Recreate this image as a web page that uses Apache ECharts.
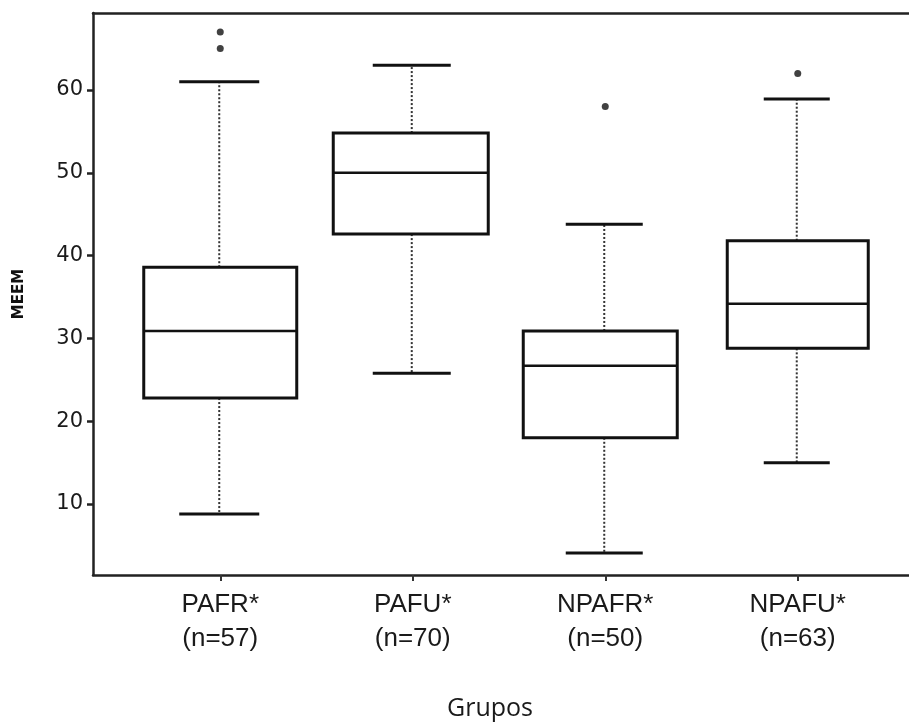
<!DOCTYPE html>
<html>
<head>
<meta charset="utf-8">
<script src="https://cdn.jsdelivr.net/npm/echarts@6/dist/echarts.min.js"></script>
<style>
  html, body { margin: 0; padding: 0; background: #fff; }
  #chart { width: 909px; height: 726px; }
</style>
</head>
<body>
<div id="chart"></div>
<script>
// 数据
var groups = ['PAFR*', 'PAFU*', 'NPAFR*', 'NPAFU*'];
var counts = [57, 70, 50, 63];
var mins = [8.8, 25.8, 4.1, 15.0];
var q1s = [22.8, 42.6, 18.0, 28.8];
var medians = [30.9, 50.0, 26.7, 34.2];
var q3s = [38.6, 54.8, 30.9, 41.8];
var maxs = [61, 63, 43.8, 58.9];
var outliers = [[0, 67], [0, 65], [2, 58], [3, 62]];
var yTicks = [10, 20, 30, 40, 50, 60];

// 样式
var boxWidths = [153, 155, 154, 141];
var capWidths = [80, 78, 77, 66];
var boxShift = [0, -2, -5, 0];
var yMin = 1.43, yMax = 69.3;

var categories = groups.map(function (g, i) {
    return g + '\n(n=' + counts[i] + ')';
});

var boxData = groups.map(function (g, i) {
    return [i, mins[i], q1s[i], medians[i], q3s[i], maxs[i]];
});

function renderBox(params, api) {
    var i = api.value(0);
    var pMin = api.coord([i, api.value(1)]);
    var pQ1 = api.coord([i, api.value(2)]);
    var pMed = api.coord([i, api.value(3)]);
    var pQ3 = api.coord([i, api.value(4)]);
    var pMax = api.coord([i, api.value(5)]);
    var x = pMed[0] - 1;
    var bx = pMed[0] + boxShift[i];
    var bw = boxWidths[i] / 2;
    var cw = capWidths[i] / 2;
    var dotted = { stroke: '#333', lineWidth: 2, lineDash: [2, 2] };
    var solid = { stroke: '#111', lineWidth: 3 };
    return {
        type: 'group',
        children: [
            { type: 'line', shape: { x1: x, y1: pQ3[1], x2: x, y2: pMax[1] }, style: dotted },
            { type: 'line', shape: { x1: x, y1: pQ1[1], x2: x, y2: pMin[1] }, style: dotted },
            { type: 'line', shape: { x1: x - cw, y1: pMax[1], x2: x + cw, y2: pMax[1] }, style: solid },
            { type: 'line', shape: { x1: x - cw, y1: pMin[1], x2: x + cw, y2: pMin[1] }, style: solid },
            {
                type: 'rect',
                shape: { x: bx - bw, y: pQ3[1], width: bw * 2, height: pQ1[1] - pQ3[1] },
                style: { fill: '#fff', stroke: '#111', lineWidth: 3 }
            },
            { type: 'line', shape: { x1: bx - bw, y1: pMed[1], x2: bx + bw, y2: pMed[1] }, style: { stroke: '#111', lineWidth: 2.5 } }
        ]
    };
}

var chart = echarts.init(document.getElementById('chart'));

chart.setOption({
    backgroundColor: '#fff',
    animation: false,
    grid: [
        { left: 93, right: 0, top: 13, bottom: 151, outerBoundsMode: 'none' },
        { left: 124, right: 15, top: 13, bottom: 151, outerBoundsMode: 'none' }
    ],
    xAxis: [
        {
            gridIndex: 0, type: 'value', min: 0, max: 1,
            axisLine: { show: true, lineStyle: { color: '#222', width: 2.5 } },
            axisTick: { show: false }, axisLabel: { show: false }, splitLine: { show: false }
        },
        {
            gridIndex: 0, type: 'value', min: 0, max: 1, position: 'top',
            axisLine: { show: true, lineStyle: { color: '#222', width: 2.5 } },
            axisTick: { show: false }, axisLabel: { show: false }, splitLine: { show: false }
        },
        {
            gridIndex: 1, type: 'category', data: categories, boundaryGap: true,
            axisLine: { show: false },
            axisTick: { show: true, alignWithLabel: true, length: 6, lineStyle: { color: '#333', width: 2 } },
            axisLabel: {
                interval: 0, margin: 13, color: '#1a1a1a',
                fontFamily: 'Liberation Sans', fontSize: 26, lineHeight: 34
            }
        }
    ],
    yAxis: [
        {
            gridIndex: 0, type: 'value', min: yMin, max: yMax,
            name: 'MEEM', nameLocation: 'middle', nameRotate: 90, nameGap: 66,
            nameTextStyle: { fontSize: 15, fontWeight: 'bold', color: '#111', fontFamily: 'DejaVu Sans' },
            axisLine: { show: true, lineStyle: { color: '#222', width: 2.5 } },
            axisTick: { show: true, length: 6, customValues: yTicks, lineStyle: { color: '#222', width: 2.5 } },
            axisLabel: { customValues: yTicks, margin: 10, color: '#1a1a1a', fontFamily: 'DejaVu Sans', fontSize: 21 },
            splitLine: { show: false }
        },
        {
            gridIndex: 1, type: 'value', min: yMin, max: yMax, show: false
        }
    ],
    graphic: [
        {
            type: 'text', left: 447, top: 696,
            style: { text: 'Grupos', fontFamily: 'Open Sans', fontSize: 25, fill: '#1a1a1a' }
        }
    ],
    series: [
        {
            type: 'custom',
            xAxisIndex: 2, yAxisIndex: 1,
            renderItem: renderBox,
            data: boxData,
            encode: { x: 0, y: [1, 2, 3, 4, 5] }
        },
        {
            type: 'scatter',
            xAxisIndex: 2, yAxisIndex: 1,
            symbol: 'circle', symbolSize: 7,
            itemStyle: { color: '#111' },
            data: outliers
        }
    ]
});
</script>
</body>
</html>
